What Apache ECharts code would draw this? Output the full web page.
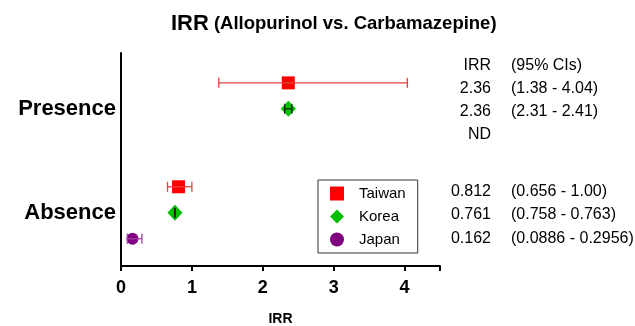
<!DOCTYPE html>
<html lang="en">
<head>
    <meta charset="UTF-8">
    <title>IRR</title>
    <style>
        * { margin: 0; padding: 0; }
        #main { width: 635px; height: 326px; background: #fff; }
    </style>
</head>
<body>
    <div id="main"></div>
    <script src="https://cdn.jsdelivr.net/npm/echarts@6/dist/echarts.min.js"></script>
    <script>
        // rows on the y axis: 0-2 presence, 4-6 absence
        var groups = ['Presence', 'Absence'];
        var groupRows = [1, 5];
        var countries = ['Taiwan', 'Korea', 'Japan'];
        var colors = ['#ff0000', '#00c000', '#800080'];
        var barColors = ['#e84040', '#1a1a1a', '#a040a0'];
        var icons = ['rect', 'diamond', 'circle'];

        // [irr, lower, upper, row]  (Japan presence: ND)
        var taiwan = [[2.36, 1.38, 4.04, 0], [0.812, 0.656, 1.00, 4]];
        var korea = [[2.36, 2.31, 2.41, 1], [0.761, 0.758, 0.763, 5]];
        var japan = [[0.162, 0.0886, 0.2956, 6]];

        var tableHead = ['IRR', '(95% CIs)'];
        var irrText = ['2.36', '2.36', 'ND', '0.812', '0.761', '0.162'];
        var ciText = ['(1.38 - 4.04)', '(2.31 - 2.41)', '', '(0.656 - 1.00)', '(0.758 - 0.763)', '(0.0886 - 0.2956)'];

        var chart = echarts.init(document.getElementById('main'));
        var font = 'Liberation Sans, Arial, sans-serif';

        function errBars(items, ci) {
            return {
                type: 'custom',
                z: 5,
                data: items.map(function (d) { return [d[1], d[2], d[3]]; }),
                renderItem: function (params, api) {
                    var lo = api.coord([api.value(0), api.value(2)]);
                    var hi = api.coord([api.value(1), api.value(2)]);
                    var h = 5;
                    var st = { stroke: barColors[ci], lineWidth: 1.3 };
                    return {
                        type: 'group',
                        children: [
                            { type: 'line', shape: { x1: lo[0], y1: lo[1], x2: hi[0], y2: hi[1] }, style: st },
                            { type: 'line', shape: { x1: lo[0], y1: lo[1] - h, x2: lo[0], y2: lo[1] + h }, style: st },
                            { type: 'line', shape: { x1: hi[0], y1: hi[1] - h, x2: hi[0], y2: hi[1] + h }, style: st }
                        ]
                    };
                },
                silent: true
            };
        }

        function points(items, ci, size) {
            return {
                name: countries[ci],
                type: 'scatter',
                symbol: icons[ci],
                symbolSize: size,
                itemStyle: { color: colors[ci], opacity: 1 },
                data: items.map(function (d) { return [d[0], d[3]]; }),
                z: 3
            };
        }

        var option = {
            animation: false,
            title: {
                text: '{a|IRR} {b|(Allopurinol vs. Carbamazepine)}',
                left: 166,
                top: 8,
                textStyle: {
                    rich: {
                        a: { fontSize: 22, fontWeight: 'bold', color: '#000', fontFamily: font },
                        b: { fontSize: 18.5, fontWeight: 'bold', color: '#000', fontFamily: font }
                    }
                }
            },
            legend: {
                orient: 'vertical',
                left: 318,
                top: 180,
                padding: [6, 12, 6, 12],
                itemGap: 8,
                itemWidth: 14,
                itemHeight: 14,
                borderColor: '#333',
                borderWidth: 1,
                textStyle: { fontSize: 15, color: '#000', fontFamily: font, padding: [0, 0, 0, 10] },
                data: countries.map(function (c, i) { return { name: c, icon: icons[i] }; })
            },
            grid: { left: 121, right: 195, top: 53, bottom: 60, outerBoundsMode: 'none' },
            xAxis: {
                type: 'value',
                min: 0,
                max: 4.5,
                interval: 1,
                name: 'IRR',
                nameLocation: 'middle',
                nameGap: 46,
                nameTextStyle: { fontSize: 14, fontWeight: 'bold', color: '#000', fontFamily: font },
                axisLine: { show: true, onZero: false, lineStyle: { color: '#000', width: 2 } },
                axisTick: { show: true, length: 5, lineStyle: { color: '#000', width: 2 } },
                axisLabel: {
                    fontSize: 18, fontWeight: 'bold', color: '#000', fontFamily: font, margin: 13,
                    formatter: function (v) { return Number.isInteger(v) ? v : ''; }
                },
                splitLine: { show: false }
            },
            yAxis: {
                type: 'value',
                inverse: true,
                min: -1.15,
                max: 7.05,
                interval: 0.05,
                axisLine: { show: true, onZero: false, lineStyle: { color: '#000', width: 2 } },
                axisTick: { show: false },
                splitLine: { show: false },
                axisLabel: {
                    fontSize: 22, fontWeight: 'bold', color: '#000', fontFamily: font, margin: 5,
                    formatter: function (v) {
                        for (var i = 0; i < groupRows.length; i++) {
                            if (Math.abs(v - groupRows[i]) < 1e-6) return groups[i];
                        }
                        return '';
                    }
                }
            },
            series: [
                points(taiwan, 0, 13),
                points(korea, 1, [15, 16]),
                points(japan, 2, 12),
                errBars(taiwan, 0),
                errBars(korea, 1),
                errBars(japan, 2)
            ]
        };
        chart.setOption(option);

        // side table, placed beside the rows
        var tableY = [89, 112, 135, 192, 215, 239];
        var txt = [];
        var tfont = '16px ' + font;
        function addRow(y, a, b) {
            txt.push({ type: 'text', x: 491, y: y, style: { text: a, font: tfont, fill: '#000', textAlign: 'right', textVerticalAlign: 'middle' } });
            txt.push({ type: 'text', x: 511, y: y, style: { text: b, font: tfont, fill: '#000', textAlign: 'left', textVerticalAlign: 'middle' } });
        }
        addRow(66, tableHead[0], tableHead[1]);
        irrText.forEach(function (t, r) {
            addRow(tableY[r], t, ciText[r]);
        });
        chart.setOption({ graphic: txt });
    </script>
</body>
</html>
